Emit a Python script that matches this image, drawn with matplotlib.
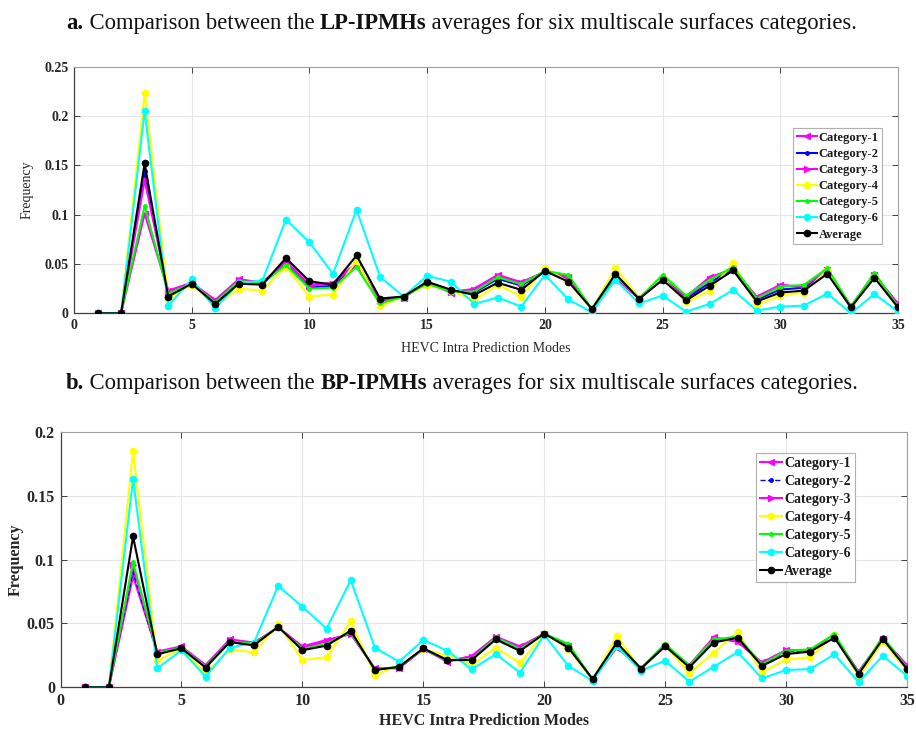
import numpy as np
import matplotlib
matplotlib.use("Agg")
import matplotlib.pyplot as plt

modes = list(range(1, 36))
labels = ["Category-1", "Category-2", "Category-3", "Category-4", "Category-5", "Category-6", "Average"]

# Panel a: LP-IPMHs
lp_cat1 = [0,0,0.101,0.023,0.031,0.0135,0.0345,0.031,0.053,0.029,0.031,0.051,0.012,0.016,0.031,0.021,0.025,0.039,0.0315,0.042,0.0366,0.004,0.0356,0.015,0.035,0.017,0.0366,0.0447,0.017,0.0288,0.027,0.044,0.007,0.039,0.010]
lp_cat2 = [0,0,0.144,0.019,0.030,0.011,0.032,0.030,0.051,0.026,0.028,0.049,0.012,0.017,0.031,0.023,0.021,0.035,0.028,0.043,0.035,0.004,0.038,0.015,0.035,0.015,0.031,0.045,0.014,0.024,0.026,0.042,0.006,0.038,0.007]
lp_cat3 = [0,0,0.135,0.022,0.030,0.013,0.034,0.031,0.052,0.028,0.030,0.050,0.012,0.016,0.031,0.022,0.024,0.038,0.031,0.042,0.036,0.004,0.036,0.015,0.034,0.016,0.035,0.045,0.016,0.028,0.027,0.044,0.007,0.039,0.009]
lp_cat4 = [0,0,0.2236,0.015,0.029,0.008,0.025,0.023,0.047,0.017,0.019,0.0535,0.0075,0.017,0.029,0.023,0.0135,0.029,0.017,0.0457,0.032,0.004,0.046,0.016,0.036,0.011,0.023,0.051,0.0085,0.018,0.021,0.044,0.005,0.038,0.005]
lp_cat5 = [0,0,0.109,0.020,0.030,0.011,0.033,0.030,0.049,0.025,0.026,0.047,0.010,0.017,0.030,0.022,0.022,0.0366,0.0295,0.043,0.039,0.004,0.038,0.015,0.039,0.018,0.034,0.047,0.015,0.027,0.0288,0.0457,0.007,0.041,0.007]
lp_cat6 = [0,0,0.205,0.0075,0.0345,0.005,0.031,0.033,0.095,0.072,0.040,0.105,0.037,0.017,0.038,0.032,0.0095,0.016,0.0068,0.039,0.014,0.001,0.034,0.010,0.018,0.0017,0.0095,0.0237,0.0027,0.0068,0.0078,0.020,0.0,0.0196,0.0017]
lp_avg  = [0,0,0.152,0.017,0.030,0.0095,0.030,0.029,0.056,0.0325,0.029,0.0586,0.015,0.017,0.032,0.024,0.0186,0.031,0.0237,0.043,0.032,0.0044,0.040,0.0146,0.034,0.013,0.028,0.0434,0.012,0.021,0.023,0.040,0.006,0.036,0.006]

# Panel b: BP-IPMHs
bp_cat1 = [0,0,0.087,0.028,0.032,0.0174,0.0375,0.035,0.047,0.032,0.037,0.0417,0.0148,0.015,0.030,0.020,0.0245,0.0396,0.032,0.042,0.032,0.006,0.031,0.015,0.032,0.0174,0.039,0.0357,0.0195,0.029,0.029,0.040,0.0122,0.038,0.0174]
bp_cat2 = [0,0,0.090,0.026,0.031,0.016,0.036,0.034,0.047,0.030,0.034,0.043,0.014,0.016,0.030,0.021,0.022,0.038,0.030,0.042,0.032,0.006,0.032,0.015,0.032,0.016,0.037,0.037,0.018,0.028,0.028,0.040,0.011,0.038,0.016]
bp_cat3 = [0,0,0.0956,0.027,0.031,0.017,0.037,0.034,0.047,0.031,0.036,0.042,0.0145,0.015,0.030,0.021,0.024,0.039,0.031,0.042,0.032,0.006,0.032,0.015,0.032,0.017,0.038,0.036,0.019,0.029,0.029,0.040,0.012,0.038,0.017]
bp_cat4 = [0,0,0.185,0.021,0.030,0.011,0.0297,0.0273,0.0495,0.0214,0.0234,0.0516,0.0096,0.017,0.030,0.0245,0.0175,0.031,0.019,0.042,0.030,0.006,0.040,0.014,0.033,0.011,0.027,0.0435,0.0115,0.0219,0.0234,0.041,0.0078,0.036,0.013]
bp_cat5 = [0,0,0.098,0.027,0.031,0.016,0.036,0.034,0.047,0.030,0.034,0.043,0.014,0.016,0.030,0.021,0.022,0.039,0.030,0.042,0.034,0.006,0.034,0.015,0.034,0.017,0.0375,0.0396,0.018,0.0286,0.0297,0.0417,0.011,0.0396,0.015]
bp_cat6 = [0,0,0.163,0.0148,0.029,0.0083,0.031,0.035,0.0794,0.063,0.046,0.0838,0.031,0.020,0.037,0.0286,0.014,0.026,0.0115,0.041,0.0167,0.005,0.032,0.013,0.0208,0.0044,0.016,0.0276,0.007,0.0135,0.0143,0.0258,0.004,0.0247,0.0089]
bp_avg  = [0,0,0.118,0.0258,0.0305,0.0154,0.0354,0.0328,0.0474,0.029,0.0326,0.0443,0.0135,0.016,0.0305,0.0213,0.0213,0.0375,0.0284,0.042,0.031,0.0065,0.035,0.0146,0.0323,0.0156,0.035,0.0388,0.0167,0.026,0.0279,0.0388,0.0104,0.0378,0.0143]

xticks = [0, 5, 10, 15, 20, 25, 30, 35]
lp_yticks = [0, 0.05, 0.1, 0.15, 0.2, 0.25]
bp_yticks = [0, 0.05, 0.1, 0.15, 0.2]
ytick_labels_lp = ["0", "0.05", "0.1", "0.15", "0.2", "0.25"]
ytick_labels_bp = ["0", "0.05", "0.1", "0.15", "0.2"]

SERIF = ["Liberation Serif", "DejaVu Serif"]
plt.rcParams['font.family'] = SERIF

colors = ['#ff00ff', '#0000ff', '#ff00ff', '#ffff00', '#00ff00', '#00ffff', '#000000']
markers = ['<', '.', '>', 'o', '.', 'o', 'o']
msizes = [5, 5, 5, 4.5, 5, 4.5, 4.5]

fig = plt.figure(figsize=(9.16, 7.29), dpi=100)
W, H = 916, 729

def px_axes(l, t, r, b):
    return fig.add_axes([l / W, 1 - b / H, (r - l) / W, (b - t) / H])

ax1 = px_axes(74, 66.7, 898, 313.3)
ax2 = px_axes(60.5, 431.7, 907, 687.3)

def draw(ax, series, yticks, ylabels, tick_fs, dashed2, leg_anchor, leg_fs, leg_spacing,
         lab_fs, lab_weight, ylabelpad, xlabelpad):
    for i, s in enumerate(series):
        ls = '--' if (dashed2 and i == 1) else '-'
        lw = 1.0 if (dashed2 and i == 1) else 1.5
        ax.plot(modes, s, color=colors[i], marker=markers[i], ms=msizes[i], lw=lw, ls=ls,
                label=labels[i], zorder=3 + i)
    ax.set_xlim(0, 35)
    ax.set_ylim(0, yticks[-1])
    ax.set_xticks(xticks)
    ax.set_xticklabels([str(t) for t in xticks], fontsize=tick_fs, fontweight='bold')
    ax.set_yticks(yticks)
    ax.set_yticklabels(ylabels, fontsize=tick_fs, fontweight='bold')
    ax.grid(True, color='#e6e6e6', lw=0.8)
    ax.set_axisbelow(True)
    for sp in ['left', 'bottom']:
        ax.spines[sp].set_color('#404040')
        ax.spines[sp].set_linewidth(0.9)
    for sp in ['top', 'right']:
        ax.spines[sp].set_color('#a0a0a0')
        ax.spines[sp].set_linewidth(0.8)
    ax.tick_params(direction='in', length=4, width=0.7, colors='#404040', labelcolor='#262626',
                   top=True, right=True, pad=4)
    ax.set_xlabel("HEVC Intra Prediction Modes", fontsize=lab_fs, fontweight=lab_weight,
                  color='#262626', labelpad=xlabelpad)
    ax.set_ylabel("Frequency", fontsize=lab_fs, fontweight=lab_weight, color='#262626',
                  labelpad=ylabelpad)
    leg = ax.legend(loc='upper right', bbox_to_anchor=leg_anchor,
                    prop={'weight': 'bold', 'size': leg_fs, 'family': SERIF},
                    frameon=True, fancybox=False, framealpha=1, edgecolor='#b0b0b0',
                    handlelength=1.6, handletextpad=0.15, labelspacing=leg_spacing,
                    borderpad=0.3, borderaxespad=0)
    leg.get_frame().set_linewidth(0.8)
    for t in leg.get_texts():
        t.set_color('#1a1a1a')

draw(ax1, [lp_cat1, lp_cat2, lp_cat3, lp_cat4, lp_cat5, lp_cat6, lp_avg], lp_yticks, ytick_labels_lp,
     10, False, (0.981, 0.751), 9, 0.33, 10, 'normal', 8, 7)
draw(ax2, [bp_cat1, bp_cat2, bp_cat3, bp_cat4, bp_cat5, bp_cat6, bp_avg], bp_yticks, ytick_labels_bp,
     11.5, True, (0.9386, 0.9167), 10, 0.36, 11.5, 'bold', 2, 3)

# Mixed-weight titles
renderer = fig.canvas.get_renderer()
def mixed_title(parts, xc_px, y_px, fs):
    texts = []
    for s, w in parts:
        t = fig.text(0, 1 - y_px / H, s, fontsize=fs, fontweight=w, va='baseline', ha='left', color='#111111')
        texts.append(t)
    widths = [t.get_window_extent(renderer).width for t in texts]
    total = sum(widths)
    x = xc_px - total / 2
    for t, w in zip(texts, widths):
        t.set_x(x / W)
        x += w

mixed_title([("a.", 'bold'), (" Comparison between the ", 'normal'), ("LP-IPMHs", 'bold'),
             (" averages for six multiscale surfaces categories.", 'normal')], 462, 29, 16.3)
mixed_title([("b.", 'bold'), (" Comparison between the ", 'normal'), ("BP-IPMHs", 'bold'),
             (" averages for six multiscale surfaces categories.", 'normal')], 462, 389, 16.3)

fig.savefig("out.png", dpi=100)
